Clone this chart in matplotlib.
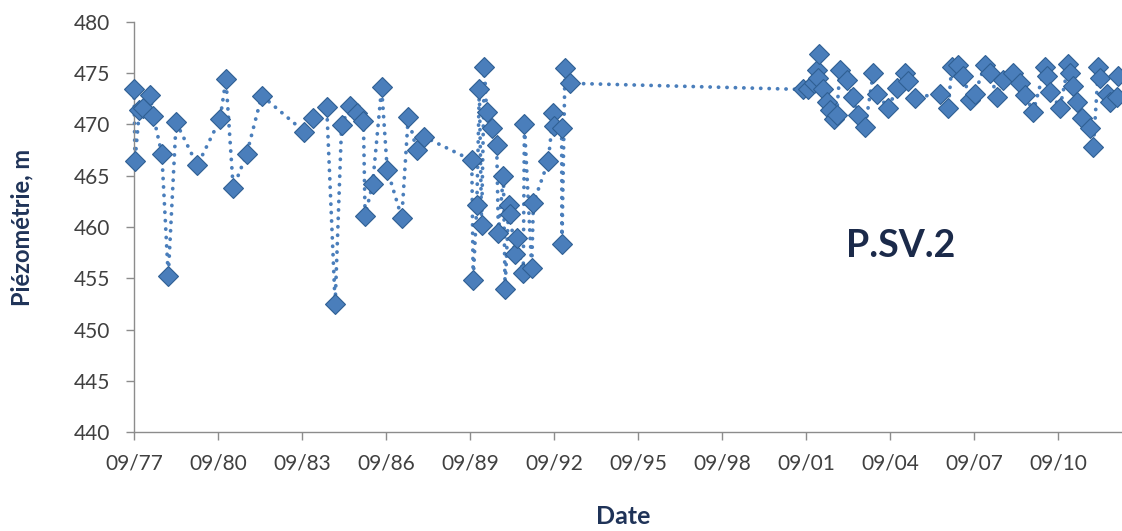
import matplotlib
matplotlib.use("Agg")
import matplotlib.pyplot as plt
import numpy as np

# decimal years and piezometric levels (m)
dates = [
    1977.67, 1977.70, 1977.86, 1978.00, 1978.24, 1978.36, 1978.66, 1978.89, 1979.17,
    1979.93, 1980.74, 1980.95, 1981.21, 1981.69, 1982.23, 1983.74, 1984.05, 1984.55,
    1984.85, 1985.08, 1985.38, 1985.62, 1985.86, 1985.92, 1986.19, 1986.51, 1986.71,
    1987.23, 1987.46, 1987.76, 1988.02,
    1989.73, 1989.78, 1989.91, 1990.00, 1990.08, 1990.18, 1990.26, 1990.44, 1990.62,
    1990.68, 1990.86, 1990.92, 1991.05, 1991.10, 1991.27, 1991.33, 1991.57, 1991.61,
    1991.87, 1991.93, 1992.46, 1992.64, 1992.65, 1992.94, 1992.95, 1993.06, 1993.24,
    2001.56, 2001.75, 2001.95, 2002.05, 2002.11, 2002.13, 2002.28, 2002.40, 2002.52,
    2002.65, 2002.76, 2002.88,
    2003.12, 2003.36, 2003.53, 2003.78, 2004.07, 2004.19, 2004.61, 2004.91, 2005.20,
    2005.32, 2005.56, 2006.45, 2006.75, 2006.87, 2007.11, 2007.29, 2007.52, 2007.70,
    2008.06, 2008.24, 2008.48, 2008.71, 2009.07, 2009.31, 2009.49, 2009.78, 2010.20,
    2010.26, 2010.38, 2010.74, 2011.04, 2011.10, 2011.21, 2011.33, 2011.51, 2011.81,
    2011.93, 2012.11, 2012.17, 2012.41, 2012.52, 2012.76, 2012.82,
]
levels = [
    473.4, 466.4, 471.4, 471.6, 472.9, 470.8, 467.1, 455.2, 470.2,
    466.0, 470.5, 474.4, 463.8, 467.1, 472.8, 469.3, 470.6, 471.7,
    452.5, 469.9, 471.8, 471.1, 470.3, 461.1, 464.2, 473.6, 465.6,
    460.9, 470.7, 467.5, 468.8,
    466.5, 454.8, 462.1, 473.4, 460.2, 475.6, 471.2, 469.6, 468.0,
    459.4, 465.0, 454.0, 462.1, 461.3, 457.4, 458.9, 455.5, 470.0,
    456.0, 462.3, 466.4, 471.1, 469.8, 469.6, 458.3, 475.5, 474.0,
    473.4, 473.4, 474.0, 475.3, 474.5, 476.9, 473.4, 472.2, 471.4,
    470.5, 470.9, 475.3,
    474.3, 472.7, 470.9, 469.7, 475.0, 473.0, 471.6, 473.5, 475.0,
    474.2, 472.6, 473.0, 471.6, 475.6, 475.8, 474.7, 472.4, 473.0,
    475.8, 475.0, 472.7, 474.3, 475.0, 474.0, 472.9, 471.2, 475.6,
    474.7, 473.2, 471.6, 475.9, 475.0, 473.7, 472.2, 470.6, 469.6,
    467.8, 475.6, 474.5, 473.0, 472.2, 472.7, 474.7,
]
tick_years = [1977 + 3 * i + 8 / 12 for i in range(12)]
tick_labels = ["09/77", "09/80", "09/83", "09/86", "09/89", "09/92",
               "09/95", "09/98", "09/01", "09/04", "09/07", "09/10"]
y_ticks = [440, 445, 450, 455, 460, 465, 470, 475, 480]

navy = "#1F3358"
blue = "#4A7EBB"

fig = plt.figure(figsize=(11.22, 5.31), dpi=100)
ax = fig.add_axes([134 / 1122, 98.7 / 531, 988 / 1122, 410.6 / 531])
ax.set_facecolor("white")

ax.plot(dates, levels, color=blue, linewidth=2.7,
        linestyle=(0, (0.05, 2.2)), dash_capstyle="round", zorder=2,
        clip_on=False)
ax.plot(dates, levels, linestyle="none", marker="D", markersize=10.5,
        markerfacecolor=blue, markeredgecolor="#2F5F93", markeredgewidth=0.8,
        zorder=3, clip_on=False)

ax.set_xlim(1977 + 8 / 12, 1977 + 8 / 12 + 988 / 28)
ax.set_ylim(440, 480)
ax.set_xticks(tick_years)
ax.set_xticklabels(tick_labels)
ax.set_yticks(y_ticks)

for s in ["top", "right"]:
    ax.spines[s].set_visible(False)
for s in ["left", "bottom"]:
    ax.spines[s].set_color("#8C8C8C")
    ax.spines[s].set_linewidth(1.0)

ax.tick_params(axis="both", direction="out", length=6, width=1,
               color="#8C8C8C", labelsize=15, labelcolor="#404040")
ax.tick_params(axis="y", pad=11)
ax.tick_params(axis="x", pad=9)
for lab in ax.get_xticklabels() + ax.get_yticklabels():
    lab.set_family("Lato")

fig.text(22 / 1122, 1 - 227 / 531, "Piézométrie, m", rotation=90,
         ha="center", va="center", fontsize=17, fontweight="bold",
         color=navy, family="Lato")
fig.text(623 / 1122, 1 - 517 / 531, "Date", ha="center", va="center",
         fontsize=18, fontweight="bold", color=navy, family="Lato")
ax.text(901, 285, "P.SV.2", transform=None, ha="center", va="center",
        fontsize=27, fontweight="bold", color="#1B2A4A", family="Lato")

fig.savefig("out.png", dpi=100, facecolor="white")
